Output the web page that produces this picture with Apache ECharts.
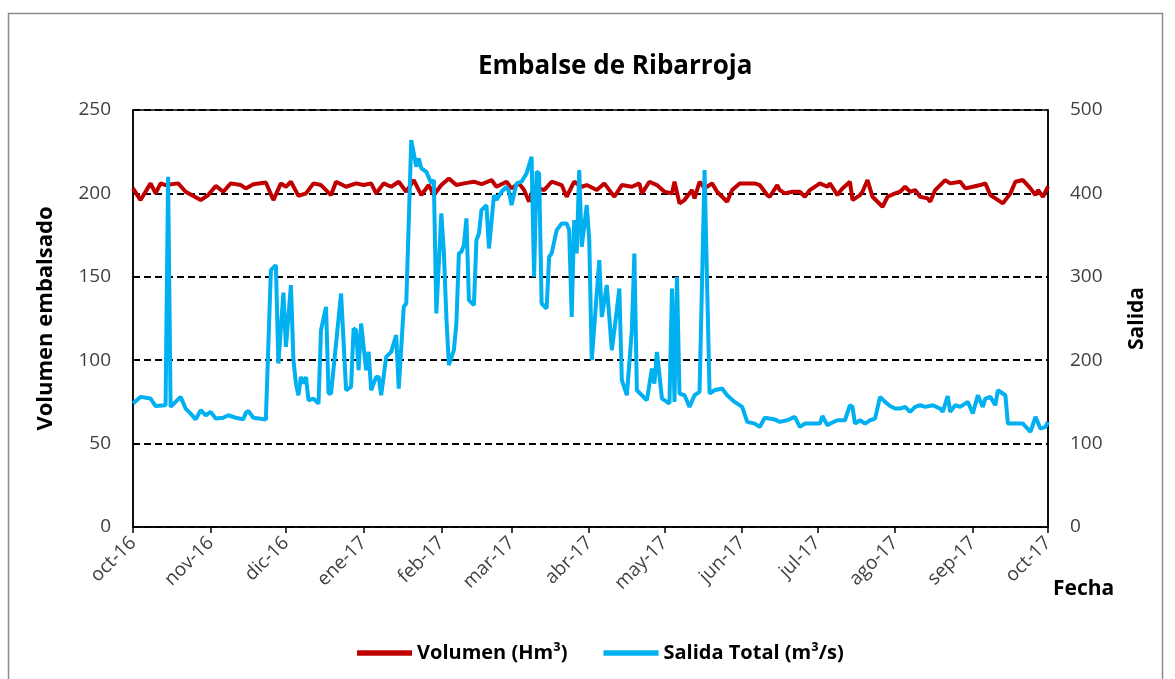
<!DOCTYPE html>
<html>
<head>
<meta charset="utf-8">
<script src="https://cdn.jsdelivr.net/npm/echarts@6/dist/echarts.min.js"></script>
<style>
html,body{margin:0;padding:0;background:#fff;}
#c{width:1175px;height:679px;}
</style>
</head>
<body>
<div id="c"></div>
<script>
// Day offsets from 2016-10-01
var monthDays = [0, 31, 61, 92, 123, 151, 182, 212, 243, 273, 304, 335, 365];
var monthLabels = ['oct-16','nov-16','dic-16','ene-17','feb-17','mar-17','abr-17','may-17','jun-17','jul-17','ago-17','sep-17','oct-17'];

var volumenDias = [0,3,7,9,11,13,18,21,27,30,33,36,39,43,45,48,53,56,59,61,63,66,69,72,75,79,81,85,89,92,95,97,100,103,106,109,112,115,118,120,123,126,129,132,136,139,143,145,149,151,154,156,158,160,164,167,171,173,176,179,181,185,188,191,192,195,199,202,203,206,209,212,215,216,218,220,223,224,226,228,231,233,237,239,242,245,248,250,253,254,257,258,260,263,266,268,270,274,277,278,281,283,286,287,290,291,293,295,297,299,301,304,306,308,310,312,314,317,318,320,324,326,330,332,335,338,340,342,344,347,350,352,355,358,360,361,363,365];
var volumenValores = [203,196,206,200,206,205,206,201,196,199,204.5,201,206,205,203,205.5,206.5,196,206,204,207,198.5,200,206,205,199,207,204,206,205,206,200,206,204,207,201,208,199,205,199,205,209,205,206,207,205.5,208,204,207,203,206,202,195,204,202,207,205,198,207,204,205,202,206,200,198,205,204,206,200,207,205,201,200,207,194,196,202,197,207,203,206,201,195,202,206,206,206,205,199,198,205,202,200,201,201,198,202,206,204,206,199,203,207,196,199,201,208,198,195,192,198,200,201,204,201,202,198,197,195,202,208,206,207,203,204,205,206,199,197,194,200,207,208,203,199,202,198,204];

var salidaDias = [0,3,7,9,13,14,15,17,19,21,23,25,27,29,31,33,36,38,41,44,45,46,48,53,55,57,58,60,61,63,64,65,66,67,68,69,70,72,74,75,77,78,79,81,83,85,87,88,89,90,91,93,94,95,97,98,99,101,103,105,106,108,109,111,113,114,115,117,119,120,121,123,124,125,126,128,129,130,131,132,133,134,136,137,138,139,141,142,144,145,147,149,150,151,153,155,157,159,160,161,162,163,165,166,167,169,171,173,174,175,176,177,178,179,181,182,183,186,187,189,190,191,193,194,195,197,199,200,201,203,205,207,208,209,211,213,214,215,216,217,218,220,222,224,226,228,230,232,235,237,240,243,245,248,250,252,256,258,261,264,266,268,272,274,275,277,278,281,284,286,287,288,290,292,294,296,298,300,302,304,306,308,310,312,314,316,319,322,323,325,326,328,330,333,335,337,339,340,342,344,345,348,349,352,355,358,360,362,364,365];
var salidaValores = [148,156,154,145,146,420,144,150,156,142,136,129,140,134,138,130,131,134,131,129,137,139,131,129,308,314,196,281,216,290,200,172,158,180,172,180,152,154,148,236,264,160,160,220,280,164,168,238,236,188,244,188,210,164,180,180,158,204,210,230,166,264,268,464,432,442,430,426,412,416,256,376,330,252,194,212,244,328,330,338,370,272,266,344,352,380,386,334,398,392,402,408,402,386,412,414,424,444,300,426,424,268,262,324,328,356,364,364,356,252,368,328,428,336,386,344,200,320,252,290,252,212,260,286,176,158,236,328,164,158,152,190,172,210,154,150,148,286,150,300,160,158,144,158,162,428,160,164,166,158,150,144,126,124,120,131,129,126,128,132,120,124,124,124,133,122,124,128,128,146,144,124,128,124,128,130,156,150,145,142,142,144,138,144,146,144,146,142,138,157,138,146,144,150,136,158,144,154,156,146,164,158,124,124,124,114,132,118,120,126];

function pairs(xs, ys){ return xs.map(function(x,i){ return [x, ys[i]]; }); }

var FONT = '"Open Sans", "Liberation Sans", sans-serif';
var chart = echarts.init(document.getElementById('c'), null, {renderer:'canvas'});
chart.setOption({
  animation: false,
  backgroundColor: '#fff',
  textStyle: {fontFamily: FONT},
  graphic: [{
    type: 'rect', shape: {x: 8.5, y: 13.5, width: 1154, height: 700},
    style: {fill: 'none', stroke: '#8c8c8c', lineWidth: 1.5}, silent: true, z: -1
  }],
  title: {
    text: 'Embalse de Ribarroja', left: 478, top: 54, padding: 0,
    textStyle: {fontFamily: FONT, fontSize: 26, fontWeight: 'bold', color: '#000'}
  },
  legend: {
    left: 352, top: 638, itemWidth: 55, itemHeight: 14, itemGap: 36,
    data: ['Volumen (Hm³)', 'Salida Total (m³/s)'],
    textStyle: {fontFamily: FONT, fontSize: 20, fontWeight: 'bold', color: '#000'},
    icon: 'path://M0,0 L10,0 L10,1 L0,1 Z'
  },
  grid: {
    left: 133, right: 127, top: 110, bottom: 152, containLabel: false,
    show: true, borderColor: '#000', borderWidth: 1.5, backgroundColor: '#fff'
  },
  xAxis: {
    type: 'value', min: 0, max: 365,
    name: 'Fecha', nameLocation: 'end', nameGap: 5,
    nameTextStyle: {fontFamily: FONT, fontSize: 21, fontWeight: 'bold', color: '#000', verticalAlign: 'top', padding: [52,0,0,0]},
    axisLine: {show: true, lineStyle: {color: '#000', width: 1.5}},
    axisTick: {show: true, customValues: monthDays, length: 6, lineStyle: {color: '#000', width: 1.5}},
    axisLabel: {
      customValues: monthDays, rotate: 45, margin: 13,
      fontFamily: FONT, fontSize: 19, color: '#404040',
      formatter: function(v){ var i = monthDays.indexOf(Math.round(v)); return i >= 0 ? monthLabels[i] : ''; }
    },
    splitLine: {show: false}
  },
  yAxis: [{
    type: 'value', min: 0, max: 250, interval: 50,
    name: 'Volumen embalsado', nameLocation: 'middle', nameGap: 76,
    nameTextStyle: {fontFamily: FONT, fontSize: 22, fontWeight: 'bold', color: '#000'},
    axisLine: {show: true, lineStyle: {color: '#000', width: 1.5}},
    axisTick: {show: false},
    axisLabel: {margin: 22, fontFamily: FONT, fontSize: 19, color: '#404040'},
    splitLine: {show: true, lineStyle: {color: '#000', width: 1.8, type: [7, 4]}}
  }, {
    type: 'value', min: 0, max: 500, interval: 100, position: 'right',
    name: 'Salida', nameLocation: 'middle', nameGap: 79,
    nameTextStyle: {fontFamily: FONT, fontSize: 21, fontWeight: 'bold', color: '#000'},
    axisLine: {show: true, lineStyle: {color: '#000', width: 1.5}},
    axisTick: {show: false},
    axisLabel: {margin: 22, fontFamily: FONT, fontSize: 19, color: '#404040'},
    splitLine: {show: false}
  }],
  series: [{
    name: 'Volumen (Hm³)', type: 'line', yAxisIndex: 0,
    data: pairs(volumenDias, volumenValores),
    showSymbol: false, symbol: 'none',
    lineStyle: {color: '#C00000', width: 4},
    itemStyle: {color: '#C00000'}
  }, {
    name: 'Salida Total (m³/s)', type: 'line', yAxisIndex: 1,
    data: pairs(salidaDias, salidaValores),
    showSymbol: false, symbol: 'none',
    lineStyle: {color: '#00B0F0', width: 4},
    itemStyle: {color: '#00B0F0'}
  }]
});
</script>
</body>
</html>
